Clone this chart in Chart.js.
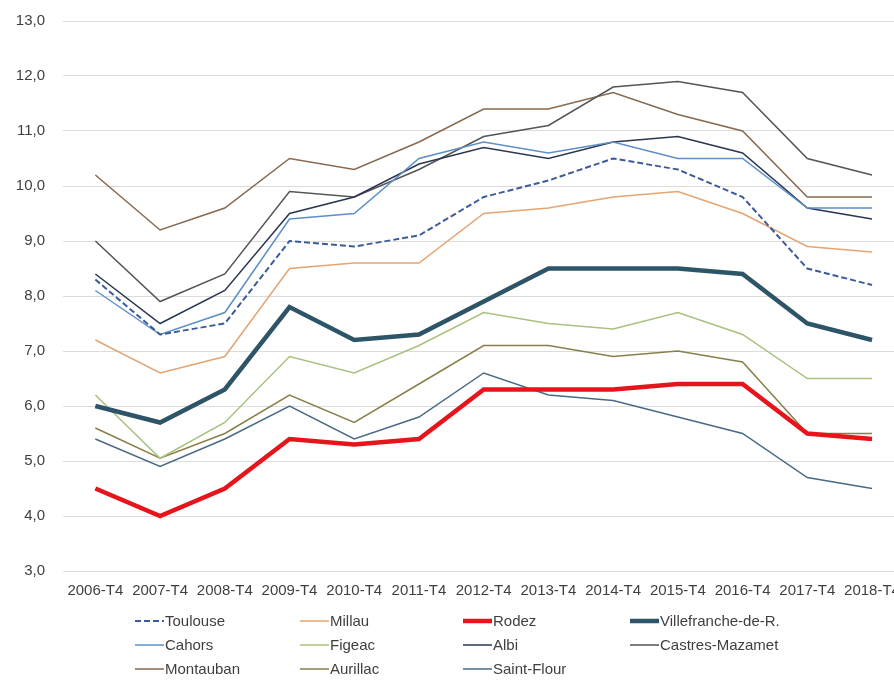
<!DOCTYPE html>
<html>
<head>
<meta charset="utf-8">
<script src="https://cdn.jsdelivr.net/npm/chart.js@4"></script>
<style>
  html, body { margin: 0; padding: 0; background: #fff; overflow: hidden; }
  #wrap { width: 894px; height: 681px; overflow: hidden; position: relative; }
  canvas { display: block; }
</style>
</head>
<body>
<div id="wrap"><canvas id="c" width="911" height="681"></canvas></div>
<script>
// Quarterly categories (Q4 of each year)
const quarters = ['2006-T4','2007-T4','2008-T4','2009-T4','2010-T4','2011-T4','2012-T4','2013-T4','2014-T4','2015-T4','2016-T4','2017-T4','2018-T4'];

// Rate per area, in %
const toulouse      = [8.3, 7.3, 7.5, 9.0, 8.9, 9.1, 9.8, 10.1, 10.5, 10.3, 9.8, 8.5, 8.2];
const millau        = [7.2, 6.6, 6.9, 8.5, 8.6, 8.6, 9.5, 9.6, 9.8, 9.9, 9.5, 8.9, 8.8];
const rodez         = [4.5, 4.0, 4.5, 5.4, 5.3, 5.4, 6.3, 6.3, 6.3, 6.4, 6.4, 5.5, 5.4];
const villefranche  = [6.0, 5.7, 6.3, 7.8, 7.2, 7.3, 7.9, 8.5, 8.5, 8.5, 8.4, 7.5, 7.2];
const cahors        = [8.1, 7.3, 7.7, 9.4, 9.5, 10.5, 10.8, 10.6, 10.8, 10.5, 10.5, 9.6, 9.6];
const figeac        = [6.2, 5.05, 5.7, 6.9, 6.6, 7.1, 7.7, 7.5, 7.4, 7.7, 7.3, 6.5, 6.5];
const albi          = [8.4, 7.5, 8.1, 9.5, 9.8, 10.4, 10.7, 10.5, 10.8, 10.9, 10.6, 9.6, 9.4];
const castres       = [9.0, 7.9, 8.4, 9.9, 9.8, 10.3, 10.9, 11.1, 11.8, 11.9, 11.7, 10.5, 10.2];
const montauban     = [10.2, 9.2, 9.6, 10.5, 10.3, 10.8, 11.4, 11.4, 11.7, 11.3, 11.0, 9.8, 9.8];
const aurillac      = [5.6, 5.05, 5.5, 6.2, 5.7, 6.4, 7.1, 7.1, 6.9, 7.0, 6.8, 5.5, 5.5];
const saintFlour    = [5.4, 4.9, 5.4, 6.0, 5.4, 5.8, 6.6, 6.2, 6.1, 5.8, 5.5, 4.7, 4.5];

// Axis range and step
const yMin = 3, yMax = 13, yStep = 1;

const FONT = 'Liberation Sans, Arial, sans-serif';
const TEXT = '#3f3f3f';
const FONT_SIZE = 15;

function series(label, data, color, width, extra) {
  return Object.assign({
    label, data,
    borderColor: color, backgroundColor: color,
    borderWidth: width, pointRadius: 0, pointHoverRadius: 0,
    tension: 0, fill: false
  }, extra || {});
}

// Legend laid out in four columns under the axis
const gridLegend = {
  id: 'gridLegend',
  afterDraw(chart) {
    const ctx = chart.ctx;
    const colX = [135, 300, 463, 630];
    const rowY = [621, 645, 669];
    const sample = 29;
    ctx.save();
    ctx.font = FONT_SIZE + 'px ' + FONT;
    ctx.textBaseline = 'middle';
    ctx.textAlign = 'left';
    chart.data.datasets.forEach((ds, i) => {
      const x = colX[i % 4], y = rowY[Math.floor(i / 4)];
      ctx.beginPath();
      ctx.strokeStyle = ds.borderColor;
      ctx.lineWidth = ds.borderWidth;
      ctx.setLineDash(ds.borderDash || []);
      ctx.moveTo(x, y);
      ctx.lineTo(x + sample, y);
      ctx.stroke();
      ctx.setLineDash([]);
      ctx.fillStyle = TEXT;
      ctx.fillText(ds.label, x + sample + 1, y + 1);
    });
    ctx.restore();
  }
};

new Chart(document.getElementById('c'), {
  type: 'line',
  data: {
    labels: quarters,
    datasets: [
      series('Toulouse', toulouse, '#3b5b9b', 2, { borderDash: [6, 3] }),
      series('Millau', millau, '#e6a46f', 1.5),
      series('Rodez', rodez, '#e8141c', 4.5, { order: -2 }),
      series('Villefranche-de-R.', villefranche, '#2e5467', 4.5, { order: -1 }),
      series('Cahors', cahors, '#5c90c8', 1.5),
      series('Figeac', figeac, '#a8c27e', 1.5),
      series('Albi', albi, '#2b3752', 1.5),
      series('Castres-Mazamet', castres, '#555555', 1.5),
      series('Montauban', montauban, '#86694f', 1.5),
      series('Aurillac', aurillac, '#8a7f4a', 1.5),
      series('Saint-Flour', saintFlour, '#4a6a86', 1.5)
    ]
  },
  options: {
    responsive: false,
    animation: false,
    layout: { padding: { left: 0, top: 21, right: 1, bottom: 70 } },
    plugins: {
      legend: { display: false },
      tooltip: { enabled: false }
    },
    scales: {
      x: {
        offset: true,
        grid: { display: false, drawTicks: false },
        border: { display: false },
        ticks: {
          autoSkip: false, maxRotation: 0, minRotation: 0,
          padding: 11, color: TEXT,
          font: { family: FONT, size: FONT_SIZE }
        }
      },
      y: {
        min: yMin, max: yMax,
        grid: { color: '#dcdcdc', lineWidth: 1, drawTicks: false },
        border: { display: false },
        afterFit(scale) { scale.width = 63; scale.paddingTop = 0; },
        ticks: {
          stepSize: yStep, padding: 18, color: TEXT,
          font: { family: FONT, size: FONT_SIZE },
          callback: v => v.toFixed(1).replace('.', ',')
        }
      }
    }
  },
  plugins: [gridLegend]
});
</script>
</body>
</html>
